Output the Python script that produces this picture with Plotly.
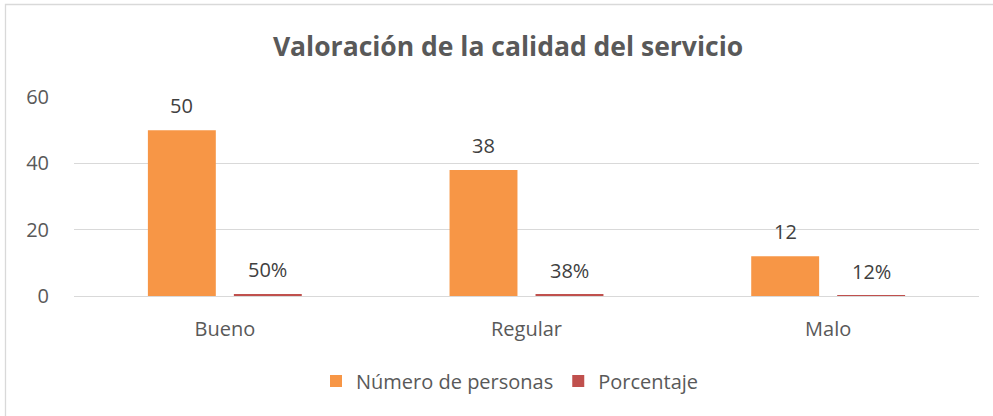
import plotly.graph_objects as go

categories = ["Bueno", "Regular", "Malo"]
personas = [50, 38, 12]
porcentaje = [0.50, 0.38, 0.12]
porcentaje_labels = ["50%", "38%", "12%"]

W, H = 993, 416
ml, mr, mt, mb = 74, 14, 97, 120
pw, ph = W - ml - mr, H - mt - mb

def px_x(px):
    return (px - ml) / pw

def px_y(py):
    return (H - mb - py) / ph

font_fam = "'Open Sans', sans-serif"
grey = "#595959"
FS = 20

fig = go.Figure()
fig.add_trace(go.Bar(
    x=categories, y=personas, name="Número de personas",
    marker=dict(color="#F79646", line=dict(width=0)),
))
fig.add_trace(go.Bar(
    x=categories, y=porcentaje, name="Porcentaje",
    marker=dict(color="#C0504D", line=dict(width=0)),
))

off = 43 / (pw / 3)
for i in range(len(categories)):
    fig.add_annotation(x=i - off, y=personas[i], xref="x", yref="y",
                       text=str(personas[i]), showarrow=False,
                       yanchor="bottom", yshift=9,
                       font=dict(size=FS, color="#404040", family=font_fam))
    fig.add_annotation(x=i + off, y=porcentaje[i], xref="x", yref="y",
                       text=porcentaje_labels[i], showarrow=False,
                       yanchor="bottom", yshift=9,
                       font=dict(size=FS, color="#404040", family=font_fam))

fig.update_layout(
    width=W, height=H,
    margin=dict(l=ml, r=mr, t=mt, b=mb, autoexpand=False),
    paper_bgcolor="white", plot_bgcolor="white",
    barmode="group", bargap=0.43, bargroupgap=0.21,
    font=dict(family=font_fam, color=grey, size=FS),
    title=dict(text="<b>Valoración de la calidad del servicio</b>",
               x=px_x(508), xanchor="center", xref="paper",
               y=1 - 47 / H, yanchor="middle",
               font=dict(size=26.5, color=grey, family=font_fam)),
    showlegend=True,
    legend=dict(orientation="h", x=px_x(510), xanchor="center", xref="paper",
                y=px_y(381), yanchor="middle",
                font=dict(size=FS, color=grey, family=font_fam),
                itemwidth=30, traceorder="normal"),
)
fig.update_xaxes(showgrid=False, showline=False, ticks="", automargin=False,
                 ticklabelstandoff=19,
                 tickfont=dict(size=FS, color=grey, family=font_fam))
fig.update_yaxes(range=[0, 60], dtick=20, showgrid=True, gridcolor="#D9D9D9",
                 gridwidth=1, zeroline=True, zerolinecolor="#D9D9D9", zerolinewidth=1,
                 showline=False, ticks="", ticklabelstandoff=24, automargin=False,
                 tickfont=dict(size=FS, color=grey, family=font_fam))

fig.add_shape(type="rect", xref="paper", yref="paper",
              x0=px_x(5.5), x1=px_x(1005), y0=px_y(430), y1=px_y(4.5),
              line=dict(color="#D9D9D9", width=1.3), fillcolor="rgba(0,0,0,0)",
              layer="below")

fig.write_html("out.html", config={"displayModeBar": False},
               post_script="document.body.style.margin='0px';document.body.style.overflow='hidden';")
